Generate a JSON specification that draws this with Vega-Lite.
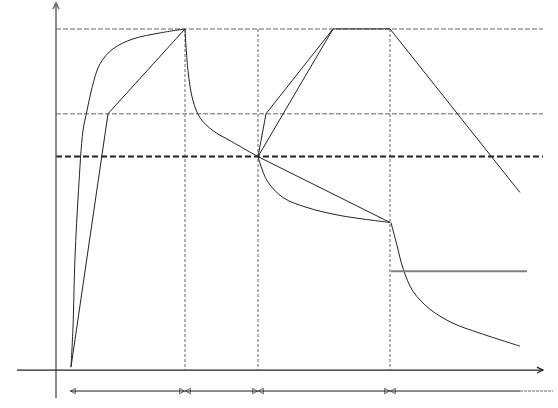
{
  "$schema": "https://vega.github.io/schema/vega-lite/v6.json",
  "width": 558,
  "height": 408,
  "autosize": {"type": "fit", "contains": "padding"},
  "padding": 0,
  "background": "white",
  "config": {"view": {"stroke": null}},
  "data": {"values": [
    {"s": "h28", "i": 0, "x": 56, "y": 28}, {"s": "h28", "i": 1, "x": 543, "y": 28},
    {"s": "h113", "i": 0, "x": 56, "y": 113}, {"s": "h113", "i": 1, "x": 543, "y": 113},
    {"s": "v185", "i": 0, "x": 185, "y": 28}, {"s": "v185", "i": 1, "x": 185, "y": 370},
    {"s": "v258", "i": 0, "x": 258, "y": 28}, {"s": "v258", "i": 1, "x": 258, "y": 370},
    {"s": "v390", "i": 0, "x": 390, "y": 28}, {"s": "v390", "i": 1, "x": 390, "y": 370},
    {"s": "ref", "i": 0, "x": 56, "y": 156}, {"s": "ref", "i": 1, "x": 543, "y": 156},
    {"s": "yaxis", "i": 0, "x": 56, "y": 2}, {"s": "yaxis", "i": 1, "x": 56, "y": 398},
    {"s": "xaxis", "i": 0, "x": 17, "y": 370}, {"s": "xaxis", "i": 1, "x": 543, "y": 370},
    {"s": "yarrow", "i": 0, "x": 53, "y": 8}, {"s": "yarrow", "i": 1, "x": 56, "y": 2}, {"s": "yarrow", "i": 2, "x": 59, "y": 8},
    {"s": "xarrow", "i": 0, "x": 537, "y": 367}, {"s": "xarrow", "i": 1, "x": 543, "y": 370}, {"s": "xarrow", "i": 2, "x": 537, "y": 373},
    {"s": "A", "i": 0, "x": 71, "y": 367}, {"s": "A", "i": 1, "x": 73, "y": 327}, {"s": "A", "i": 2, "x": 75, "y": 257},
    {"s": "A", "i": 3, "x": 78.5, "y": 190}, {"s": "A", "i": 4, "x": 83, "y": 130}, {"s": "A", "i": 5, "x": 87, "y": 110},
    {"s": "A", "i": 6, "x": 92, "y": 87}, {"s": "A", "i": 7, "x": 100, "y": 63}, {"s": "A", "i": 8, "x": 113, "y": 48},
    {"s": "A", "i": 9, "x": 133, "y": 38}, {"s": "A", "i": 10, "x": 160, "y": 32}, {"s": "A", "i": 11, "x": 185, "y": 28},
    {"s": "C", "i": 0, "x": 185, "y": 28}, {"s": "C", "i": 1, "x": 188, "y": 70}, {"s": "C", "i": 2, "x": 193, "y": 100},
    {"s": "C", "i": 3, "x": 200, "y": 117}, {"s": "C", "i": 4, "x": 213, "y": 130}, {"s": "C", "i": 5, "x": 230, "y": 140},
    {"s": "C", "i": 6, "x": 258, "y": 156},
    {"s": "F", "i": 0, "x": 258, "y": 156}, {"s": "F", "i": 1, "x": 267, "y": 180}, {"s": "F", "i": 2, "x": 283, "y": 197},
    {"s": "F", "i": 3, "x": 307, "y": 207}, {"s": "F", "i": 4, "x": 340, "y": 215}, {"s": "F", "i": 5, "x": 390, "y": 222},
    {"s": "G", "i": 0, "x": 391, "y": 222}, {"s": "G", "i": 1, "x": 397, "y": 245}, {"s": "G", "i": 2, "x": 403, "y": 268},
    {"s": "G", "i": 3, "x": 413, "y": 291}, {"s": "G", "i": 4, "x": 430, "y": 309}, {"s": "G", "i": 5, "x": 453, "y": 323},
    {"s": "G", "i": 6, "x": 480, "y": 333}, {"s": "G", "i": 7, "x": 520, "y": 346},
    {"s": "B", "i": 0, "x": 71, "y": 367}, {"s": "B", "i": 1, "x": 108, "y": 113}, {"s": "B", "i": 2, "x": 185, "y": 28},
    {"s": "D1", "i": 0, "x": 258, "y": 156}, {"s": "D1", "i": 1, "x": 266, "y": 113}, {"s": "D1", "i": 2, "x": 333, "y": 28},
    {"s": "D2", "i": 0, "x": 258, "y": 156}, {"s": "D2", "i": 1, "x": 333, "y": 28},
    {"s": "T", "i": 0, "x": 333, "y": 28}, {"s": "T", "i": 1, "x": 390, "y": 28},
    {"s": "E", "i": 0, "x": 390, "y": 28}, {"s": "E", "i": 1, "x": 520, "y": 192},
    {"s": "F2", "i": 0, "x": 258, "y": 156}, {"s": "F2", "i": 1, "x": 390, "y": 222},
    {"s": "level", "i": 0, "x": 391, "y": 271}, {"s": "level", "i": 1, "x": 527, "y": 271},
    {"s": "dim", "i": 0, "x": 70, "y": 391}, {"s": "dim", "i": 1, "x": 520, "y": 391},
    {"s": "dimtail", "i": 0, "x": 520, "y": 391}, {"s": "dimtail", "i": 1, "x": 553, "y": 391},
    {"s": "tipL", "i": 0, "x": 73, "y": 391}, {"s": "tipL", "i": 1, "x": 188, "y": 391}, {"s": "tipL", "i": 2, "x": 261, "y": 391}, {"s": "tipL", "i": 3, "x": 393, "y": 391},
    {"s": "tipR", "i": 0, "x": 182, "y": 391}, {"s": "tipR", "i": 1, "x": 255, "y": 391}, {"s": "tipR", "i": 2, "x": 387, "y": 391}
  ]},
  "encoding": {
    "x": {"field": "x", "type": "quantitative", "scale": {"domain": [0, 558], "nice": false, "zero": false}, "axis": null},
    "y": {"field": "y", "type": "quantitative", "scale": {"domain": [0, 408], "nice": false, "zero": false, "reverse": true}, "axis": null},
    "order": {"field": "i", "type": "quantitative"},
    "detail": {"field": "s", "type": "nominal"}
  },
  "layer": [
    {"transform": [{"filter": {"field": "s", "oneOf": ["h28", "h113"]}}],
     "mark": {"type": "line", "color": "#999999", "strokeWidth": 1.5, "strokeDash": [5, 2]}},
    {"transform": [{"filter": {"field": "s", "oneOf": ["v185", "v258", "v390"]}}],
     "mark": {"type": "line", "color": "#999999", "strokeWidth": 1.5, "strokeDash": [3, 2]}},
    {"transform": [{"filter": {"field": "s", "equal": "ref"}}],
     "mark": {"type": "line", "color": "#222222", "strokeWidth": 2, "strokeDash": [6, 3]}},
    {"transform": [{"filter": {"field": "s", "oneOf": ["yaxis", "yarrow"]}}],
     "mark": {"type": "line", "color": "#666666", "strokeWidth": 1.5}},
    {"transform": [{"filter": {"field": "s", "oneOf": ["xaxis", "xarrow"]}}],
     "mark": {"type": "line", "color": "#222222", "strokeWidth": 1.2}},
    {"transform": [{"filter": {"field": "s", "oneOf": ["A", "C", "F", "G"]}}],
     "mark": {"type": "line", "color": "#222222", "strokeWidth": 1, "interpolate": "catmull-rom"}},
    {"transform": [{"filter": {"field": "s", "oneOf": ["B", "D1", "D2", "T", "E", "F2"]}}],
     "mark": {"type": "line", "color": "#222222", "strokeWidth": 1}},
    {"transform": [{"filter": {"field": "s", "equal": "level"}}],
     "mark": {"type": "line", "color": "#808080", "strokeWidth": 2}},
    {"transform": [{"filter": {"field": "s", "equal": "dim"}}],
     "mark": {"type": "line", "color": "#222222", "strokeWidth": 1}},
    {"transform": [{"filter": {"field": "s", "equal": "dimtail"}}],
     "mark": {"type": "line", "color": "#999999", "strokeWidth": 1.5, "strokeDash": [3, 1]}},
    {"transform": [{"filter": {"field": "s", "equal": "tipL"}}],
     "mark": {"type": "point", "shape": "triangle-left", "filled": false, "color": "#222222", "size": 30, "strokeWidth": 1}},
    {"transform": [{"filter": {"field": "s", "equal": "tipR"}}],
     "mark": {"type": "point", "shape": "triangle-right", "filled": false, "color": "#222222", "size": 30, "strokeWidth": 1}}
  ]
}
